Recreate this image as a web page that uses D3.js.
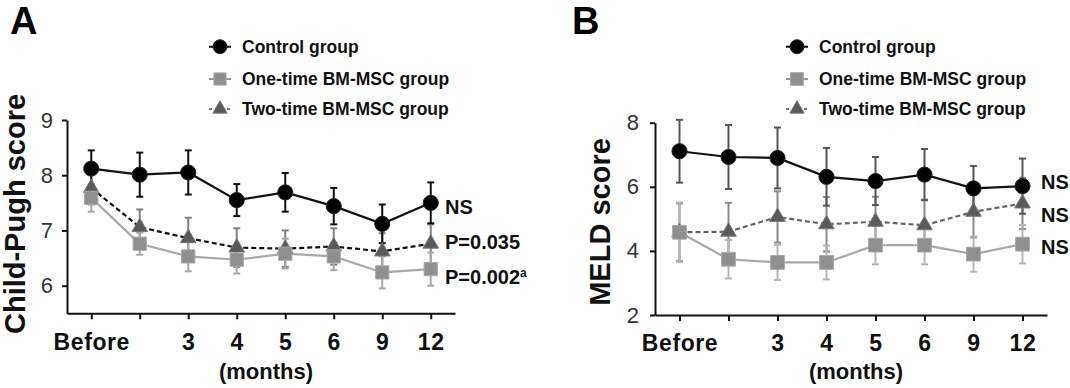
<!DOCTYPE html>
<html>
<head>
<meta charset="utf-8">
<script src="https://cdn.jsdelivr.net/npm/d3@7"></script>
<style>
  body { margin: 0; background: #fff; }
  svg { display: block; font-family: "Liberation Sans", Arial, sans-serif; }
</style>
</head>
<body>
<svg id="chart"></svg>
<script>
const months = ["Before", "1", "3", "4", "5", "6", "9", "12"];
const monthLabels = ["Before", "", "3", "4", "5", "6", "9", "12"];
const groups = ["Control group", "One-time BM-MSC group", "Two-time BM-MSC group"];

// Child-Pugh score, mean and error bar half-length
const cpControl = [8.12, 8.01, 8.05, 7.55, 7.69, 7.44, 7.12, 7.50];
const cpControlErr = [0.33, 0.40, 0.40, 0.29, 0.35, 0.33, 0.35, 0.37];
const cpOne = [7.59, 6.76, 6.53, 6.47, 6.58, 6.53, 6.24, 6.30];
const cpOneErr = [0.25, 0.20, 0.27, 0.25, 0.27, 0.25, 0.29, 0.30];
const cpTwo = [7.77, 7.06, 6.86, 6.69, 6.67, 6.71, 6.62, 6.76];
const cpTwoErr = [0.30, 0.32, 0.37, 0.35, 0.33, 0.33, 0.33, 0.35];
const cpTicks = [6, 7, 8, 9];
const cpNotes = [
  { text: "NS", value: 7.43 },
  { text: "P=0.035", value: 6.80 },
  { text: "P=0.002", sup: "a", value: 6.16 },
];

// MELD score
const meldControl = [7.11, 6.93, 6.90, 6.31, 6.18, 6.38, 5.95, 6.02];
const meldControlErr = [0.98, 1.00, 0.95, 0.90, 0.75, 0.80, 0.70, 0.86];
const meldOne = [4.58, 3.74, 3.64, 3.64, 4.18, 4.18, 3.90, 4.21];
const meldOneErr = [0.93, 0.60, 0.55, 0.53, 0.60, 0.60, 0.55, 0.60];
const meldTwo = [4.58, 4.60, 5.06, 4.83, 4.91, 4.80, 5.22, 5.48];
const meldTwoErr = [0.90, 0.90, 0.80, 0.85, 0.78, 0.80, 0.80, 0.80];
const meldTicks = [2, 4, 6, 8];
const meldNotes = [
  { text: "NS", value: 6.16 },
  { text: "NS", value: 5.12 },
  { text: "NS", value: 4.13 },
];

const W = 1070, H = 388;
const svg = d3.select("#chart").attr("width", W).attr("height", H);

function drawPanel(o) {
  const g = svg.append("g");

  const x = d3.scalePoint().domain(months).range(o.xRange).padding(0.5);
  const y = d3.scaleLinear().domain(o.yDomain).range(o.yRange);

  // panel letter
  g.append("text")
    .attr("x", o.letterX).attr("y", 34)
    .attr("font-size", 38).attr("font-weight", "bold")
    .text(o.letter);

  // axes
  const yAxis = g.append("g")
    .attr("transform", `translate(${o.xRange[0]},0)`)
    .call(d3.axisLeft(y).tickValues(o.yTicks).tickFormat(d3.format("d"))
      .tickSizeOuter(0).tickSizeInner(5).tickPadding(o.yPad));
  const xAxis = g.append("g")
    .attr("transform", `translate(0,${o.yRange[0]})`)
    .call(d3.axisBottom(x).tickSizeOuter(0).tickSizeInner(6).tickPadding(14)
      .tickFormat((d, i) => monthLabels[i]));
  [xAxis, yAxis].forEach((a) => {
    a.select(".domain").attr("stroke", "#111").attr("stroke-width", 2);
    a.selectAll(".tick line").attr("stroke", "#111").attr("stroke-width", 2);
  });
  yAxis.selectAll("text").attr("font-size", 22).attr("fill", "#333").attr("font-family", "Liberation Sans, Arial");
  xAxis.selectAll("text").attr("font-size", 23).attr("font-weight", "bold").attr("fill", "#111")
    .attr("letter-spacing", 0.6).attr("font-family", "Liberation Sans, Arial");

  g.append("text")
    .attr("x", (o.xRange[0] + o.xRange[1]) / 2 + 5).attr("y", 379)
    .attr("text-anchor", "middle")
    .attr("font-size", 22).attr("font-weight", "bold").attr("fill", "#111")
    .text("(months)");

  g.append("text")
    .attr("transform", `translate(${o.yLabelX},${o.yLabelY}) rotate(-90)`)
    .attr("text-anchor", "middle")
    .attr("font-size", 29).attr("font-weight", "bold").attr("fill", "#111")
    .text(o.yLabel);

  // error bars
  o.series.forEach((s) => {
    const eb = g.append("g").attr("stroke", s.errColor).attr("stroke-width", 2);
    s.values.forEach((v, i) => {
      const cx = x(months[i]);
      const t = y(v + s.errors[i]), b = y(v - s.errors[i]);
      eb.append("line").attr("x1", cx).attr("x2", cx).attr("y1", t).attr("y2", b);
      eb.append("line").attr("x1", cx - 3.5).attr("x2", cx + 3.5).attr("y1", t).attr("y2", t);
      eb.append("line").attr("x1", cx - 3.5).attr("x2", cx + 3.5).attr("y1", b).attr("y2", b);
    });
  });

  // lines
  const line = d3.line().x((d, i) => x(months[i])).y((d) => y(d));
  o.series.forEach((s) => {
    g.append("path")
      .datum(s.values)
      .attr("d", line)
      .attr("fill", "none")
      .attr("stroke", s.lineColor)
      .attr("stroke-width", 2.2)
      .attr("stroke-dasharray", s.dash || null);
  });

  // markers
  o.series.forEach((s) => {
    g.selectAll(null)
      .data(s.values)
      .enter()
      .append("path")
      .attr("transform", (d, i) => `translate(${x(months[i])},${y(d)})`)
      .attr("d", d3.symbol().type(s.symbol).size(s.size))
      .attr("fill", s.fill)
      .attr("stroke", s.stroke)
      .attr("stroke-width", 1);
  });

  // annotations
  o.notes.forEach((n) => {
    const t = g.append("text")
      .attr("x", o.noteX).attr("y", y(n.value)).attr("dy", "0.35em")
      .attr("font-size", 20).attr("font-weight", "bold").attr("fill", "#111")
      .text(n.text);
    if (n.sup) {
      t.append("tspan").attr("font-size", 12).attr("dy", "-0.6em").text(n.sup);
    }
  });

  // legend: series array is ordered two, one, control
  const legendY = [46.7, 79, 109];
  const legendOrder = [2, 1, 0];
  const leg = g.append("g").attr("transform", `translate(${o.legendX},0)`);
  groups.forEach((name, k) => {
    const s = o.series[legendOrder[k]];
    const row = leg.append("g").attr("transform", `translate(0,${legendY[k]})`);
    row.append("line")
      .attr("x1", -11).attr("x2", 11)
      .attr("stroke", s.legendLine).attr("stroke-width", 2)
      .attr("stroke-dasharray", s.dash ? "3,3" : null);
    row.append("path")
      .attr("d", d3.symbol().type(s.symbol).size(s.size * 0.85))
      .attr("fill", s.fill).attr("stroke", s.stroke);
    row.append("text")
      .attr("x", 22).attr("dy", "0.35em")
      .attr("font-size", 17.5).attr("font-weight", "bold").attr("fill", "#111")
      .text(name);
  });
}

drawPanel({
  letter: "A", letterX: 10,
  xRange: [67, 455], yRange: [313.3, 120], yDomain: [5.5, 9], yTicks: cpTicks, yPad: 9,
  yLabel: "Child-Pugh score", yLabelX: 25, yLabelY: 214,
  legendX: 220, noteX: 445, notes: cpNotes,
  series: [
    { values: cpTwo, errors: cpTwoErr, symbol: d3.symbolTriangle, size: 105, fill: "#5a5a5a", stroke: "#777",
      lineColor: "#111", dash: "5,3", errColor: "#808080", legendLine: "#777" },
    { values: cpOne, errors: cpOneErr, symbol: d3.symbolSquare, size: 175, fill: "#8f8f8f", stroke: "#a8a8a8",
      lineColor: "#a8a8a8", errColor: "#a8a8a8", legendLine: "#999" },
    { values: cpControl, errors: cpControlErr, symbol: d3.symbolCircle, size: 180, fill: "#000", stroke: "#222",
      lineColor: "#111", errColor: "#111", legendLine: "#000" },
  ],
});

drawPanel({
  letter: "B", letterX: 572,
  xRange: [655, 1047], yRange: [315, 122.7], yDomain: [2, 8], yTicks: meldTicks, yPad: 11,
  yLabel: "MELD score", yLabelX: 610, yLabelY: 222,
  legendX: 797, noteX: 1041, notes: meldNotes,
  series: [
    { values: meldTwo, errors: meldTwoErr, symbol: d3.symbolTriangle, size: 105, fill: "#5a5a5a", stroke: "#777",
      lineColor: "#666", dash: "5,3", errColor: "#8a8a8a", legendLine: "#777" },
    { values: meldOne, errors: meldOneErr, symbol: d3.symbolSquare, size: 190, fill: "#8f8f8f", stroke: "#a8a8a8",
      lineColor: "#a8a8a8", errColor: "#b4b4b4", legendLine: "#999" },
    { values: meldControl, errors: meldControlErr, symbol: d3.symbolCircle, size: 180, fill: "#000", stroke: "#222",
      lineColor: "#111", errColor: "#555", legendLine: "#000" },
  ],
});
</script>
</body>
</html>
